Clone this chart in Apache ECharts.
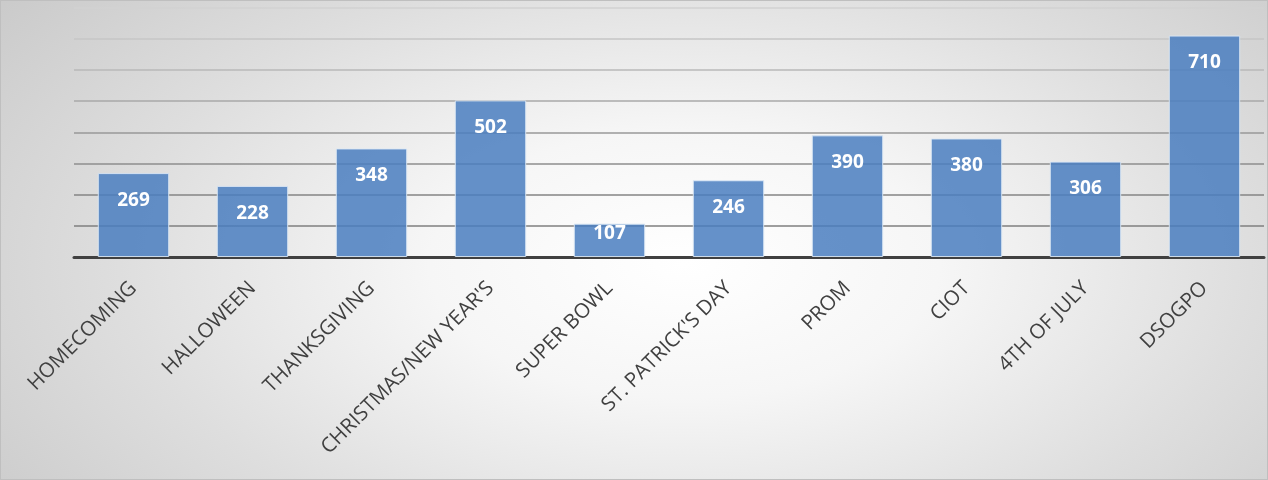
<!DOCTYPE html>
<html>
<head>
<meta charset="utf-8">
<script src="https://cdn.jsdelivr.net/npm/echarts@6/dist/echarts.min.js"></script>
<style>
html,body{margin:0;padding:0;}
#chart{width:1268px;height:480px;box-sizing:border-box;border:1px solid #bfbfbf;
background:radial-gradient(ellipse 72% 100% at 54% 55%, #ffffff 0%, #f6f6f6 28%, #dedede 62%, #c6c6c6 100%);}
</style>
</head>
<body>
<div id="chart"></div>
<script>
var categories = ["HOMECOMING", "HALLOWEEN", "THANKSGIVING", "CHRISTMAS/NEW YEAR'S", "SUPER BOWL", "ST. PATRICK'S DAY", "PROM", "CIOT", "4TH OF JULY", "DSOGPO"];
var values = [269, 228, 348, 502, 107, 246, 390, 380, 306, 710];

var chart = echarts.init(document.getElementById('chart'));
var data = values.map(function (v) {
  return v < 150 ? { value: v, label: { distance: 0 } } : v;
});
chart.setOption({
  backgroundColor: 'transparent',
  animation: false,
  grid: { left: 73, right: 3, top: 6.5, bottom: 222, containLabel: false },
  xAxis: {
    type: 'category',
    data: categories,
    axisLine: { show: true, lineStyle: { color: '#404040', width: 3 } },
    axisTick: { show: false },
    axisLabel: {
      interval: 0, rotate: 45, margin: 28,
      color: '#404040', fontFamily: 'Open Sans', fontSize: 20.5
    }
  },
  yAxis: {
    type: 'value', min: 0, max: 800, interval: 100,
    axisLine: { show: false }, axisTick: { show: false }, axisLabel: { show: false },
    splitLine: { show: true, lineStyle: { width: 1.5, color: ['#808080', '#7f7f7f', '#858585', '#8e8e8e', '#999999', '#a8a8a8', '#b8b8b8', '#c6c6c6', '#d2d2d2'] } }
  },
  series: [{
    type: 'bar',
    data: data,
    barCategoryGap: '40%',
    itemStyle: { color: 'rgba(74,126,191,0.85)', borderColor: 'rgba(220,232,245,0.9)', borderWidth: 1 },
    label: {
      show: true, position: 'insideTop', distance: 18,
      color: '#ffffff', fontFamily: 'Open Sans', fontWeight: 'bold', fontSize: 19
    }
  }]
});
</script>
</body>
</html>
